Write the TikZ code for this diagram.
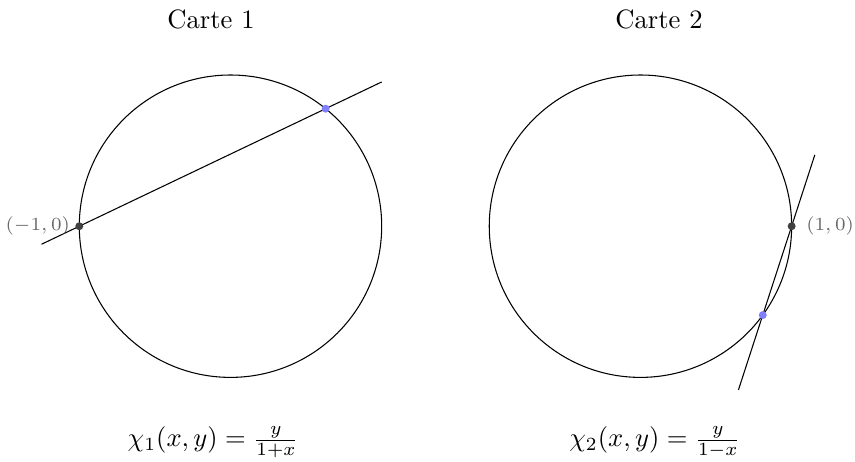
\documentclass[tikz,border=0pt]{standalone}
\usetikzlibrary{positioning}
\begin{document}
\begin{tikzpicture}[x=1cm,y=1cm,
  pole/.style={circle,fill=black!75,inner sep=0pt,minimum size=3pt},
  image/.style={circle,fill=blue!50,inner sep=0pt,minimum size=3pt},
  polelabel/.style={font=\scriptsize,text=black!60}]
\useasboundingbox (-3.049,-3.119) rectangle (8.261,2.992);
% chart 1: projection from (-1,0)
\draw (0,0) circle (2);
\coordinate (lineAstart) at (-2.5,-0.239);
\coordinate (lineAend) at (2.0,1.908);
\draw (lineAstart) -- (lineAend);
\node[pole] (poleA) at (-2,0) {};
\node[image] (imageA) at (51:2) {};
\node[polelabel,left=-0.06cm of poleA] (poleAlabel) {$(-1,0)$};
\node (titleA) at (-0.258,2.741) {Carte 1};
\node (chartA) at (-0.23,-2.86) {$\chi_1(x,y) = \frac{y}{1+x}$};
% chart 2: projection from (1,0)
\draw (5.423,0) circle (2);
\coordinate (lineBstart) at (6.719,-2.166);
\coordinate (lineBend) at (7.729,0.942);
\draw (lineBstart) -- (lineBend);
\node[pole] (poleB) at (7.423,0) {};
\node[image] (imageB) at (7.041,-1.176) {};
\node[polelabel,right=0.01cm of poleB] (poleBlabel) {$(1,0)$};
\node (titleB) at (5.668,2.741) {Carte 2};
\node (chartB) at (5.615,-2.86) {$\chi_2(x,y) = \frac{y}{1-x}$};
\end{tikzpicture}
\end{document}
